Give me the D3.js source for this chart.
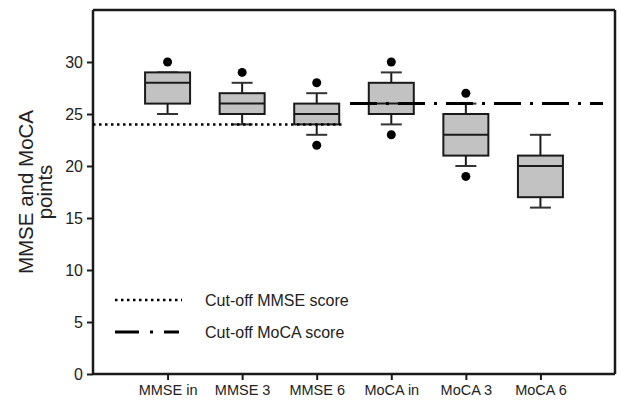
<!DOCTYPE html>
<html>
<head>
<meta charset="utf-8">
<script src="https://cdn.jsdelivr.net/npm/d3@7"></script>
<style>
  body { margin: 0; background: #fff; }
  svg { display: block; font-family: "Liberation Sans", Arial, Helvetica, sans-serif; }
</style>
</head>
<body>
<svg id="chart" width="617" height="400"></svg>
<script>
const categories = ["MMSE in", "MMSE 3", "MMSE 6", "MoCA in", "MoCA 3", "MoCA 6"];
const whiskerLow  = [25, 24, 23, 24, 20, 16];
const q1          = [26, 25, 24, 25, 21, 17];
const median      = [28, 26, 25, 26, 23, 20];
const q3          = [29, 27, 26, 28, 25, 21];
const whiskerHigh = [29, 28, 27, 29, 26, 23];
const outliers    = [[30], [29], [28, 22], [30, 23], [27, 19], []];
const yTicks = [0, 5, 10, 15, 20, 25, 30];
const cutoffMMSE = 24;
const cutoffMoCA = 26;
const legendLabels = ["Cut-off MMSE score", "Cut-off MoCA score"];

(function () {
const svg = d3.select("#chart");
const mLeft = 93, mRight = 615, mTop = 10, mBottom = 374;

const x = d3.scalePoint().domain(categories).range([mLeft, mRight]).padding(1);
const y = d3.scaleLinear().domain([0, 35]).range([mBottom, mTop]);

const ink = "#1a1a1a";

// frame (top and right)
svg.append("line").attr("x1", mLeft).attr("x2", mRight).attr("y1", mTop).attr("y2", mTop)
  .attr("stroke", ink).attr("stroke-width", 2.5);
svg.append("line").attr("x1", mRight).attr("x2", mRight).attr("y1", mTop).attr("y2", mBottom)
  .attr("stroke", ink).attr("stroke-width", 2.5);

// y axis
const yAxis = svg.append("g").attr("transform", `translate(${mLeft},0)`)
  .call(d3.axisLeft(y).tickValues(yTicks).tickSize(6).tickSizeOuter(0).tickPadding(4));
yAxis.select(".domain").attr("stroke", ink).attr("stroke-width", 2.5)
  .attr("d", `M0,${mTop}V${mBottom}`);
yAxis.selectAll(".tick line").attr("stroke", ink).attr("stroke-width", 2);
yAxis.selectAll(".tick text").attr("font-size", 16).attr("fill", "#222")
  .attr("font-family", "Liberation Sans, Arial, sans-serif");

// x axis
const xAxis = svg.append("g").attr("transform", `translate(0,${mBottom})`)
  .call(d3.axisBottom(x).tickSize(6).tickSizeOuter(0).tickPadding(5));
xAxis.select(".domain").attr("stroke", ink).attr("stroke-width", 2.5)
  .attr("d", `M${mLeft},0H${mRight}`);
xAxis.selectAll(".tick line").attr("stroke", ink).attr("stroke-width", 2);
xAxis.selectAll(".tick text").attr("font-size", 14.5).attr("fill", "#222")
  .attr("font-family", "Liberation Sans, Arial, sans-serif");

// y axis title
const yt = svg.append("text")
  .attr("transform", `translate(33,${(mTop + mBottom) / 2}) rotate(-90)`)
  .attr("text-anchor", "middle").attr("font-size", 20.5).attr("fill", "#222");
yt.append("tspan").attr("x", 0).attr("dy", 0).text("MMSE and MoCA");
yt.append("tspan").attr("x", 0).attr("dy", 19).text("points");

// boxes
const boxW = 45, capW = 21;
const g = svg.append("g");
categories.forEach((c, i) => {
  const cx = x(c);
  g.append("line").attr("x1", cx).attr("x2", cx).attr("y1", y(whiskerHigh[i])).attr("y2", y(q3[i]))
    .attr("stroke", ink).attr("stroke-width", 2);
  g.append("line").attr("x1", cx).attr("x2", cx).attr("y1", y(q1[i])).attr("y2", y(whiskerLow[i]))
    .attr("stroke", ink).attr("stroke-width", 2);
  [whiskerHigh[i], whiskerLow[i]].forEach(v => {
    g.append("line").attr("x1", cx - capW / 2).attr("x2", cx + capW / 2).attr("y1", y(v)).attr("y2", y(v))
      .attr("stroke", "#333").attr("stroke-width", 2);
  });
  g.append("rect").attr("x", cx - boxW / 2).attr("width", boxW)
    .attr("y", y(q3[i])).attr("height", y(q1[i]) - y(q3[i]))
    .attr("fill", "#c2c2c2").attr("stroke", ink).attr("stroke-width", 2);
  g.append("line").attr("x1", cx - boxW / 2).attr("x2", cx + boxW / 2).attr("y1", y(median[i])).attr("y2", y(median[i]))
    .attr("stroke", ink).attr("stroke-width", 2);
  outliers[i].forEach(v => {
    g.append("circle").attr("cx", cx).attr("cy", y(v)).attr("r", 4.5).attr("fill", "#000");
  });
});

// cut-off lines
svg.append("line").attr("x1", mLeft).attr("x2", 345).attr("y1", y(cutoffMMSE)).attr("y2", y(cutoffMMSE))
  .attr("stroke", "#000").attr("stroke-width", 2.5).attr("stroke-dasharray", "2.5,3.5");
svg.append("line").attr("x1", 350).attr("x2", 603).attr("y1", y(cutoffMoCA)).attr("y2", y(cutoffMoCA))
  .attr("stroke", "#000").attr("stroke-width", 3).attr("stroke-dasharray", "27,9,3,9");

// legend
const lg = svg.append("g");
lg.append("line").attr("x1", 115).attr("x2", 182).attr("y1", 300).attr("y2", 300)
  .attr("stroke", "#000").attr("stroke-width", 2.5).attr("stroke-dasharray", "2.5,3.5");
lg.append("line").attr("x1", 115).attr("x2", 179).attr("y1", 332).attr("y2", 332)
  .attr("stroke", "#000").attr("stroke-width", 3).attr("stroke-dasharray", "24,11,3,11");
legendLabels.forEach((t, i) => {
  lg.append("text").attr("x", 205).attr("y", 300 + i * 32).attr("dy", "0.35em")
    .attr("font-size", 16).attr("fill", "#222").text(t);
});
})();
</script>
</body>
</html>
